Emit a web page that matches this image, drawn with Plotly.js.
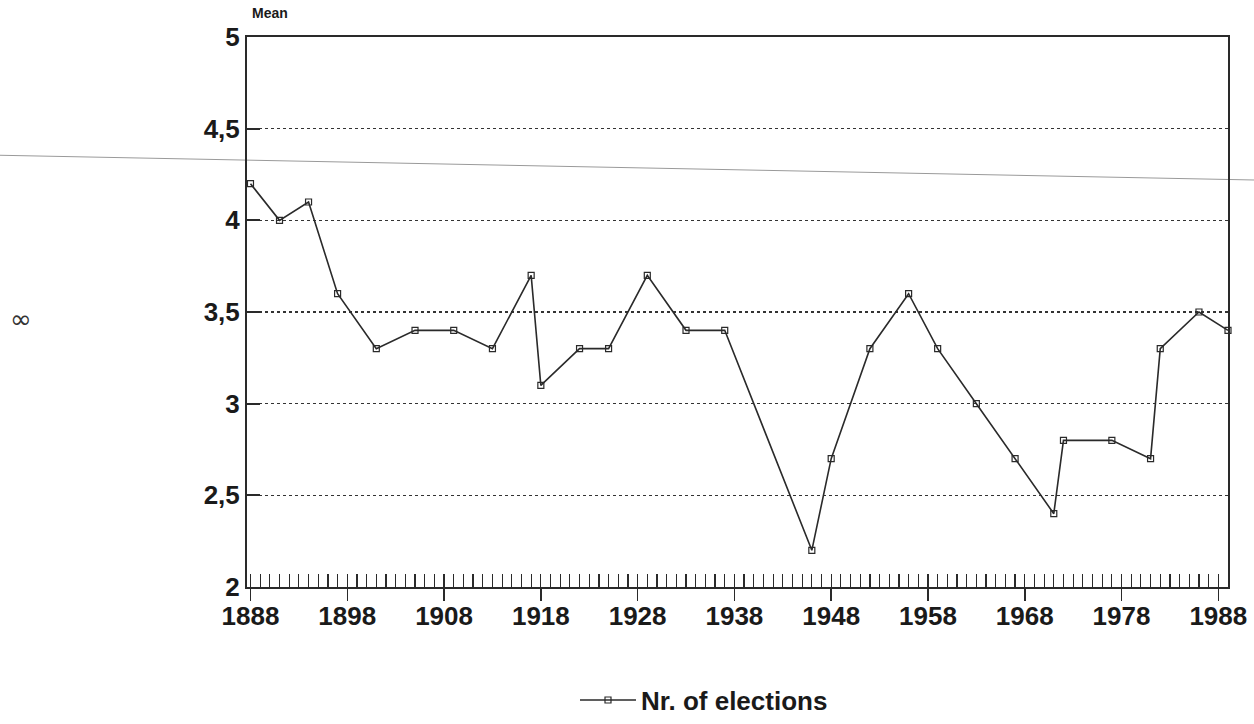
<!DOCTYPE html>
<html>
<head>
<meta charset="utf-8">
<script src="https://cdn.plot.ly/plotly-3.0.1.min.js"></script>
<style>
html,body{margin:0;padding:0;background:#fff;}
#chart{width:1254px;height:724px;}
</style>
</head>
<body>
<div id="chart"></div>
<script>
// Election years (Dutch Tweede Kamer elections) and mean values
const years = [1888, 1891, 1894, 1897, 1901, 1905, 1909, 1913, 1917, 1918,
               1922, 1925, 1929, 1933, 1937, 1946, 1948, 1952, 1956, 1959,
               1963, 1967, 1971, 1972, 1977, 1981, 1982, 1986, 1989];
const meanValues = [4.2, 4.0, 4.1, 3.6, 3.3, 3.4, 3.4, 3.3, 3.7, 3.1,
                    3.3, 3.3, 3.7, 3.4, 3.4, 2.2, 2.7, 3.3, 3.6, 3.3,
                    3.0, 2.7, 2.4, 2.8, 2.8, 2.7, 3.3, 3.5, 3.4];
const seriesName = "Nr. of elections";
const yTitle = "Mean";
const xRange = [1887.64, 1989.0];
const yRange = [2, 5];

const ink = "#2a2a2a";
const boldFont = (size) => ({family: "Liberation Sans, Arial, sans-serif", size: size, color: "#1a1a1a", weight: "bold"});

const traces = [
  {
    x: years, y: meanValues, name: seriesName, type: "scatter", mode: "lines+markers",
    line: {color: ink, width: 1.6},
    marker: {symbol: "square-open", size: 6, color: ink, line: {width: 1.2, color: ink}},
    cliponaxis: false
  },
  {
    x: [], y: [], xaxis: "x2", type: "scatter", mode: "lines", showlegend: false, hoverinfo: "skip"
  }
];

const layout = {
  width: 1254, height: 724,
  paper_bgcolor: "#ffffff", plot_bgcolor: "#ffffff",
  separators: ", ",
  margin: {l: 247, r: 26, t: 37, b: 137, pad: 0},
  showlegend: true,
  legend: {
    orientation: "h", xref: "container", yref: "container",
    x: 0.5614, xanchor: "center", y: 0.033, yanchor: "middle",
    itemwidth: 56,
    font: boldFont(26), bgcolor: "rgba(0,0,0,0)"
  },
  xaxis: {
    range: xRange, tickmode: "linear", tick0: 1888, dtick: 1,
    ticks: "inside", ticklen: 13, tickwidth: 1.2, tickcolor: ink,
    showticklabels: false, showgrid: false, zeroline: false,
    showline: true, mirror: true, linecolor: ink, linewidth: 2
  },
  xaxis2: {
    overlaying: "x", anchor: "y", side: "bottom",
    range: xRange, tickmode: "linear", tick0: 1888, dtick: 10,
    ticks: "outside", ticklen: 13, tickwidth: 1.5, tickcolor: ink,
    ticklabelstandoff: -7,
    tickfont: boldFont(26), showgrid: false, zeroline: false, showline: false
  },
  yaxis: {
    range: yRange, tickmode: "linear", tick0: 2, dtick: 0.5,
    ticks: "inside", ticklen: 13, tickwidth: 2, tickcolor: ink,
    tickfont: boldFont(26),
    showgrid: true, gridcolor: "#333333", gridwidth: 1.5, griddash: "dot",
    zeroline: false, showline: true, mirror: true, linecolor: ink, linewidth: 2
  },
  annotations: [
    {text: yTitle, xref: "paper", yref: "paper", x: 0.003, y: 1.025, xanchor: "left", yanchor: "bottom",
     showarrow: false, font: boldFont(14)},
    {text: "∞", xref: "paper", yref: "paper", x: -0.2436, y: 0.487, xanchor: "left", yanchor: "middle",
     showarrow: false, font: {family: "DejaVu Sans, sans-serif", size: 26, color: "#333"}}
  ],
  shapes: [
    {type: "line", xref: "paper", yref: "paper", x0: -0.252, y0: 0.785, x1: 1.027, y1: 0.74,
     line: {color: "#9a9a9a", width: 1}, layer: "below"}
  ]
};

Plotly.newPlot("chart", traces, layout, {displayModeBar: false, staticPlot: true});
</script>
</body>
</html>
